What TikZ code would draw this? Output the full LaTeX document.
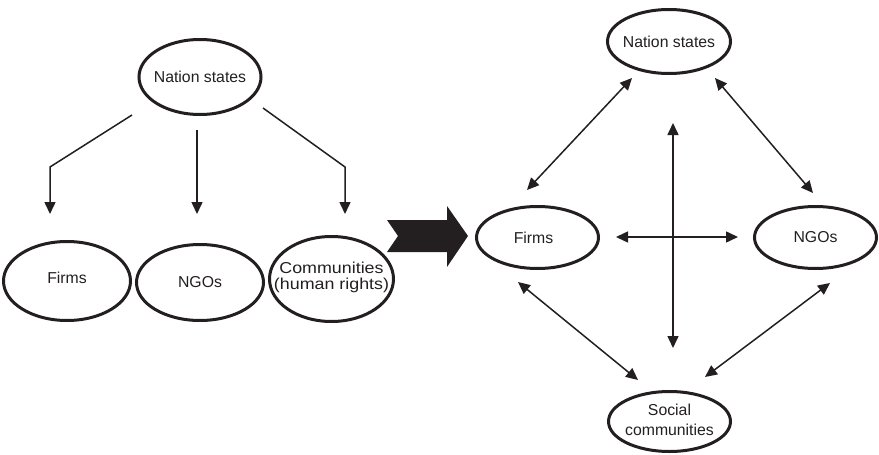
\documentclass[tikz,border=0pt]{standalone}
\usepackage{fontspec}
\setmainfont{Liberation Sans}
\usetikzlibrary{shapes.geometric,arrows.meta}
\definecolor{ink}{HTML}{231F20}
% one centred line of zero width, so the ellipse size is set by its options only
\newcommand{\tline}[1]{\makebox[0pt]{#1}}
\begin{document}
\begin{tikzpicture}[x=1pt,y=-1pt,
  actor/.style={ellipse,draw=ink,line width=3pt,inner sep=0pt,
    font=\fontsize{15.8}{18}\selectfont,text=ink,align=center},
  link/.style={draw=ink,line width=1.5pt,-{Triangle[length=12pt,width=11pt]}},
  mutual/.style={draw=ink,line width=1.5pt,{Triangle[length=12pt,width=11pt]}-{Triangle[length=12pt,width=11pt]}}]
\useasboundingbox (0,0) rectangle (879,455);

% hierarchical view
\node[actor,minimum width=122pt,minimum height=75pt] (nsL) at (200,77) {\tline{Nation states}};
\node[actor,minimum width=127pt,minimum height=79pt] (firmsL) at (67,281) {\raisebox{6pt}{\tline{Firms}}};
\node[actor,minimum width=127pt,minimum height=76pt] (ngosL) at (200,282.5) {\tline{NGOs}};
\node[actor,minimum width=124pt,minimum height=85pt,
  font=\fontsize{15.8}{16.5}\selectfont] (commL) at (331.5,279)
  {\raisebox{6pt}{\shortstack{\tline{\scalebox{1.13}[1]{Communities}}\\[1pt]\tline{\scalebox{1.13}[1]{(human rights)}}}}};

\coordinate (l1s) at (132,115); \coordinate (l1b) at (50,167); \coordinate (l1e) at (50,214);
\coordinate (l2s) at (197,130); \coordinate (l2e) at (197,214);
\coordinate (l3s) at (263,108); \coordinate (l3b) at (345,167); \coordinate (l3e) at (345,214);
\draw[link] (l1s) -- (l1b) -- (l1e);
\draw[link] (l2s) -- (l2e);
\draw[link] (l3s) -- (l3b) -- (l3e);

% transition arrow
\fill[ink] (387,220) -- (447,220) -- (447,206) -- (468,236) -- (447,267)
  -- (447,252) -- (387,252) -- (398,236) -- cycle;

% networked view
\node[actor,minimum width=123pt,minimum height=64pt] (nsR) at (669,41.5) {\tline{Nation states}};
\node[actor,minimum width=122pt,minimum height=62pt] (firmsR) at (537.5,237.5) {\hspace*{-8pt}\tline{Firms}};
\node[actor,minimum width=122pt,minimum height=62pt] (ngosR) at (815.5,237.5) {\tline{NGOs}};
\node[actor,minimum width=122pt,minimum height=60pt,
  font=\fontsize{15.8}{20}\selectfont] (socR) at (669.5,421.5)
  {\raisebox{3pt}{\tline{Social}}\\\raisebox{3pt}{\tline{communities}}};

\coordinate (a1) at (527,190); \coordinate (b1) at (632,78);
\coordinate (a2) at (715,78);  \coordinate (b2) at (813,193);
\coordinate (a3) at (673,123); \coordinate (b3) at (673,348);
\coordinate (a4) at (616,237); \coordinate (b4) at (738,237);
\coordinate (a5) at (518,282); \coordinate (b5) at (638,380);
\coordinate (a6) at (830,283); \coordinate (b6) at (705,377);
\draw[mutual] (a1) -- (b1);
\draw[mutual] (a2) -- (b2);
\draw[mutual] (a3) -- (b3);
\draw[mutual] (a4) -- (b4);
\draw[mutual] (a5) -- (b5);
\draw[mutual] (a6) -- (b6);
\end{tikzpicture}
\end{document}
